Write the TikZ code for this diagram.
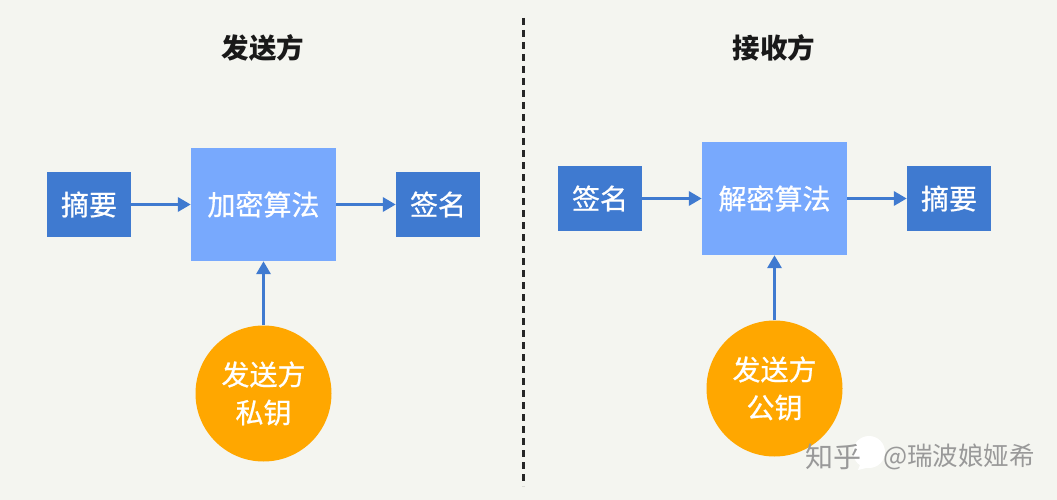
\documentclass[tikz,border=0pt]{standalone}
\usepackage{fontspec}
\setmainfont{Noto Sans CJK SC}
\newfontfamily\medcjk[FakeBold=0.7]{Noto Sans CJK SC}
\usetikzlibrary{arrows.meta}
\definecolor{bgc}{HTML}{F4F5F0}
\definecolor{darkb}{HTML}{3F7AD0}
\definecolor{lightb}{HTML}{78A9FD}
\definecolor{orangec}{HTML}{FFA700}
\definecolor{linkc}{HTML}{3F7AD0}
\tikzset{
  x=1pt,y=-1pt,
  smallbox/.style={fill=darkb,text=white,minimum width=84pt,minimum height=65pt,inner sep=0pt,font=\medcjk\fontsize{28pt}{34pt}\selectfont},
  bigbox/.style={fill=lightb,text=white,minimum width=145pt,minimum height=113pt,inner sep=0pt,font=\medcjk\fontsize{28pt}{34pt}\selectfont},
  keycircle/.style={circle,fill=orangec,text=white,minimum size=136pt,inner sep=0pt,align=center,font=\medcjk\fontsize{28pt}{38pt}\selectfont},
  titlelabel/.style={text=black!90,inner sep=0pt,font=\fontsize{27.5pt}{32pt}\selectfont\bfseries},
  link/.style={draw=linkc,line width=3.5pt,-{Triangle[length=13pt,width=14pt]}},
  wm/.style={text=black!40,inner sep=0pt,font=\fontsize{28pt}{32pt}\selectfont}
}
\begin{document}
\begin{tikzpicture}
\useasboundingbox (0,0) rectangle (1057,500);
\fill[bgc] (0,0) rectangle (1057,500);
\coordinate (divtop) at (523,18);
\coordinate (divbot) at (523,486);
\draw[black!85,line width=3pt,dash pattern=on 7pt off 5pt] (divtop) -- (divbot);
\node[titlelabel] (t1) at (263,48) {发送方};
\node[titlelabel] (t2) at (774,48) {接收方};
\node[smallbox] (a1) at (89,204.5) {摘要};
\node[bigbox] (a2) at (263.5,204.5) {加密算法};
\node[smallbox] (a3) at (438,204.5) {签名};
\node[keycircle] (a4) at (263.5,393.5) {发送方\\私钥};
\node[smallbox] (b1) at (600,198.5) {签名};
\node[bigbox] (b2) at (774.5,198.5) {解密算法};
\node[smallbox] (b3) at (949,198.5) {摘要};
\node[keycircle] (b4) at (774.5,388.5) {发送方\\公钥};
\draw[link] (a1) -- (a2);
\draw[link] (a2) -- (a3);
\draw[link] (a4) -- (a2);
\draw[link] (b1) -- (b2);
\draw[link] (b2) -- (b3);
\draw[link] (b4) -- (b2);
\fill[white] (869,452) circle (16pt);
\fill[white] (858,470) -- (862,460) -- (874,466) -- cycle;
\node[wm] (w1) at (833,457) {知乎};
\node[wm,anchor=west] (w2) at (883,457) {\fontsize{25.5pt}{30pt}\selectfont @瑞波娘娅希};
\end{tikzpicture}
\end{document}
